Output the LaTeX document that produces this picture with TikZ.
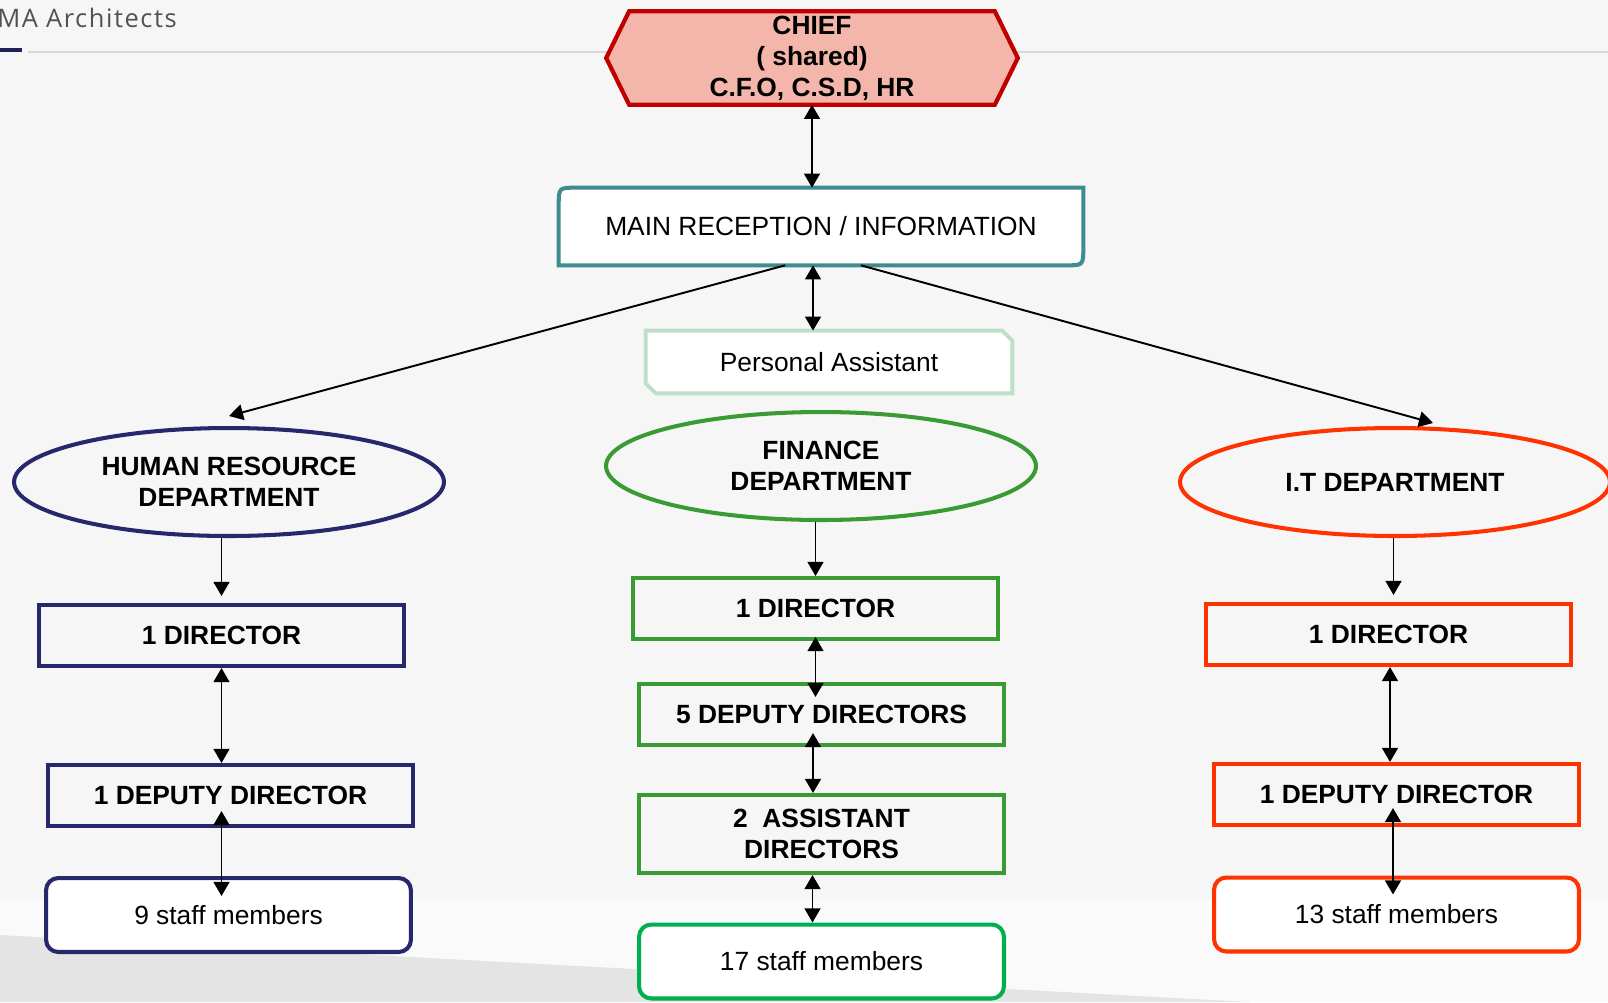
\documentclass[tikz,border=0pt]{standalone}
\usepackage{fontspec}
\setmainfont{Liberation Sans}
\newfontfamily\headfont[LetterSpace=6]{Open Sans}
\usetikzlibrary{arrows.meta,calc,backgrounds,shapes.geometric}

\definecolor{pagegray}{HTML}{F6F6F6}
\definecolor{bandgray}{HTML}{E4E4E4}
\definecolor{chieffill}{HTML}{F4B6AA}
\definecolor{chiefred}{HTML}{C00000}
\definecolor{recteal}{HTML}{3F8C90}
\definecolor{paline}{HTML}{BDDFCA}
\definecolor{hrblue}{HTML}{27286B}
\definecolor{fingreen}{HTML}{3A9B35}
\definecolor{staffgreen}{HTML}{00B050}
\definecolor{itred}{HTML}{FF3300}

\begin{document}
\begin{tikzpicture}[x=0.02cm,y=-0.02cm,
        font=\fontsize{15}{17.6}\selectfont\bfseries,
        plain/.style={font=\fontsize{15}{18}\selectfont\mdseries},
        link/.style={-{Triangle[length=8pt,width=9pt]},line width=1.1pt},
        both/.style={{Triangle[length=8pt,width=9pt]}-{Triangle[length=8pt,width=9pt]},line width=1.1pt},
        dept/.style={ellipse,draw,line width=2.3pt,minimum width=8.6cm,minimum height=2.16cm,inner sep=0pt,align=center},
        post/.style={rectangle,draw,line width=2.3pt,minimum width=7.3cm,minimum height=1.22cm,inner sep=0pt,align=center},
        staff/.style={post,plain,fill=white,rounded corners=7pt,minimum height=1.48cm}]
    \useasboundingbox (0,0) rectangle (1608,1002);

    \node[font=\headfont\fontsize{14.5}{17}\selectfont,text=black!68,anchor=base west,inner sep=0pt] (firm) at (-3,27) {MA Architects};

    \node[minimum width=7.3cm,minimum height=1.86cm,inner sep=0pt,align=center] (chief) at (812,58) {CHIEF\\( shared)\\C.F.O, C.S.D, HR};
    \node[plain,minimum width=10.48cm,minimum height=1.54cm,inner sep=0pt] (rec) at (821,226.5) {MAIN RECEPTION / INFORMATION};
    \node[plain,minimum width=7.32cm,minimum height=1.24cm,inner sep=0pt] (pa) at (829,362) {Personal Assistant};

    \node[dept,draw=hrblue] (hr) at (229,482) {HUMAN RESOURCE\\DEPARTMENT};
    \node[dept,draw=fingreen] (fin) at (821,466) {FINANCE\\DEPARTMENT};
    \node[dept,draw=itred] (it) at (1395,482) {I.T DEPARTMENT};

    \node[post,draw=hrblue] (hrdir) at (221.5,635.5) {1 DIRECTOR};
    \node[post,draw=hrblue] (hrdep) at (230.5,795.5) {1 DEPUTY DIRECTOR};
    \node[staff,draw=hrblue] (hrstaff) at (228.5,915) {9 staff members};

    \node[post,draw=fingreen] (findir) at (815.5,608.5) {1 DIRECTOR};
    \node[post,draw=fingreen] (findep) at (821.5,714.5) {5 DEPUTY DIRECTORS};
    \node[post,draw=fingreen,minimum height=1.56cm] (finasst) at (821.5,834) {2\ \ ASSISTANT\\DIRECTORS};
    \node[staff,draw=staffgreen] (finstaff) at (821.5,961.5) {17 staff members};

    \node[post,draw=itred] (itdir) at (1388.5,634.5) {1 DIRECTOR};
    \node[post,draw=itred] (itdep) at (1396.5,794.5) {1 DEPUTY DIRECTOR};
    \node[staff,draw=itred] (itstaff) at (1396.5,914.5) {13 staff members};

    \draw [both] (chief.south) -- (chief.south |- rec.north);
    \draw [both] ([xshift=-0.16cm]rec.south) -- ([xshift=-0.16cm]rec.south |- pa.north);
    \draw [link] ([xshift=-0.72cm]rec.south) -- ([yshift=0.2cm]hr.north);
    \draw [link] ([xshift=0.8cm]rec.south) -- ($(it.north)+(38,-3)$);

    \draw [link] (hrdir.north |- hr.south) -- ([yshift=0.14cm]hrdir.north);
    \draw [both] (hrdir.south) -- (hrdir.south |- hrdep.north);
    \draw [both,shorten <=-0.34cm,shorten >=-0.4cm] (hrdir.south |- hrdep.south) -- (hrdir.south |- hrstaff.north);

    \draw [link] (findir.north |- fin.south) -- (findir.north);
    \draw [both,shorten <=-0.08cm,shorten >=-0.3cm] (findir.south) -- (findir.south |- findep.north);
    \draw [both,shorten <=-0.28cm] ([xshift=-0.17cm]findep.south) -- ([xshift=-0.17cm]findep.south |- finasst.north);
    \draw [both] ([xshift=-0.18cm]finasst.south) -- ([xshift=-0.18cm]finasst.south |- finstaff.north);

    \draw [link] ([xshift=0.1cm]itdir.north |- it.south) -- ([xshift=0.1cm,yshift=0.14cm]itdir.north);
    \draw [both] ([xshift=0.03cm]itdir.south) -- ([xshift=0.03cm]itdir.south |- itdep.north);
    \draw [both,shorten <=-0.38cm,shorten >=-0.38cm] ([xshift=-0.07cm]itdep.south) -- ([xshift=-0.07cm]itdep.south |- itstaff.north);

    \begin{scope}[on background layer]
        \fill [pagegray] (0,0) rectangle (1608,1002);
        \fill [white,opacity=.5] (0,900) rectangle (1608,1002);
        \fill [bandgray] (0,935) -- (1250,1002) -- (0,1002) -- cycle;
        \draw [black!15,line width=0.9pt] (28,52) -- (1608,52);
        \draw [hrblue!80!black,line width=2.4pt] (0,50) -- (22,50);
        \filldraw [fill=chieffill,draw=chiefred,line width=2.4pt] (chief.north west) -- (chief.north east) -- ($(chief.east)+(23,0)$) -- (chief.south east) -- (chief.south west) -- ($(chief.west)+(-23,0)$) -- cycle;
        \filldraw [fill=white,draw=recteal,line width=2.3pt] (rec.south west) -- ($(rec.north west)+(0,18)$) .. controls (rec.north west) .. ($(rec.north west)+(18,0)$) -- (rec.north east) -- ($(rec.south east)+(0,-18)$) .. controls (rec.south east) .. ($(rec.south east)+(-18,0)$) -- cycle;
        \filldraw [fill=white,draw=paline,line width=2.2pt] (pa.north west) -- ($(pa.north east)+(-10,0)$) -- ($(pa.north east)+(0,10)$) -- (pa.south east) -- ($(pa.south west)+(10,0)$) -- ($(pa.south west)+(0,-10)$) -- cycle;
    \end{scope}
\end{tikzpicture}
\end{document}
